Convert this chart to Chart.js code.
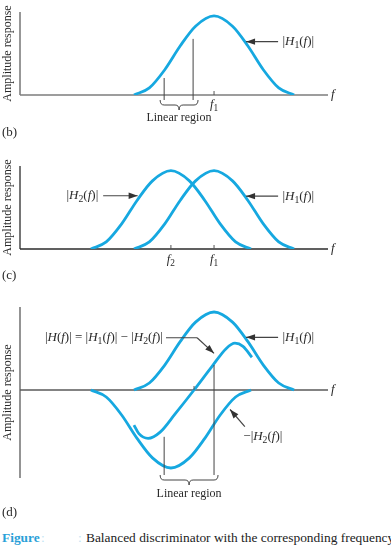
<!DOCTYPE html>
<html>
<head>
<meta charset="utf-8">
<script src="https://cdn.jsdelivr.net/npm/chart.js@4.4.0/dist/chart.umd.min.js"></script>
<style>
  html, body { margin: 0; padding: 0; background: #fff; }
  body { width: 391px; height: 545px; overflow: hidden; position: relative; font-family: "Liberation Serif", "Times New Roman", serif; }
  canvas { position: absolute; left: 0; }
  #caption { position: absolute; left: 0; top: 530px; width: 391px; height: 16px; line-height: 16px; font-size: 13.4px; white-space: nowrap; color: #222; overflow: hidden; }
  #caption span { position: absolute; top: 0; }
</style>
</head>
<body>
<canvas id="panelB" width="391" height="145" style="top:0px"></canvas>
<canvas id="panelC" width="391" height="140" style="top:145px"></canvas>
<canvas id="panelD" width="391" height="240" style="top:285px"></canvas>
<div id="caption">
  <span style="left:2px; color:#2a9fd8; font-weight:bold;">Figure</span>
  <span style="left:41px; color:#bfe3f3;">:</span>
  <span style="left:78px; color:#bfe3f3;">:</span>
  <span style="left:86px;">Balanced discriminator with the corresponding frequency</span>
</div>
<script>
// frequency axis runs 0..100 (arbitrary units), amplitude 1 = peak
const freqMin = 0;
const freqMax = 100;
const f1 = 63;
const f2 = 49;
const tickLabels = ["f_1", "f_2"];

// |H1(f)|
const h1Freq = [37, 42, 47, 52, 57, 63, 69, 74, 79, 84, 89];
const h1Values = [0, 0.09, 0.32, 0.62, 0.87, 1, 0.87, 0.62, 0.32, 0.09, 0];

// |H2(f)| (same shape, lower centre)
const h2Freq = [23, 28, 33, 38, 43, 49, 55, 60, 65, 70, 75];
const h2Values = [0, 0.09, 0.32, 0.62, 0.87, 1, 0.87, 0.62, 0.32, 0.09, 0];
const negH2Values = [0, -0.09, -0.32, -0.62, -0.87, -1, -0.87, -0.62, -0.32, -0.09, 0];

// |H(f)| = |H1| - |H2| as drawn in (d)
const hDiffFreq = [37, 38.6, 41.6, 45.5, 50.3, 56.5, 62.3, 66.9, 69.8, 72.4, 75.3];
const hDiffValues = [-0.45, -0.56, -0.62, -0.54, -0.31, 0, 0.3, 0.53, 0.6, 0.56, 0.42];

const CURVE = '#16a8e0';
const SERIF = '"Liberation Serif", "Times New Roman", serif';
const INK = '#2a2a2a';
const LABEL_SIZE = 13;

function toPoints(xs, ys) {
  return xs.map((x, i) => ({ x: x, y: ys[i] }));
}

function curve(xs, ys) {
  return {
    data: toPoints(xs, ys),
    borderColor: CURVE,
    borderWidth: 2.8,
    pointRadius: 0,
    fill: false,
    cubicInterpolationMode: 'monotone'
  };
}

// draws text where H and f are italic and "_x" is a subscript
function richText(ctx, str, x, y, size, align) {
  const parts = [];
  for (let i = 0; i < str.length; i++) {
    const c = str[i];
    if (c === '_') { parts.push({ t: str[++i], sub: true }); continue; }
    parts.push({ t: c, it: c === 'H' || c === 'f' });
  }
  const fontFor = p => (p.it ? 'italic ' : '') + (p.sub ? size * 0.75 : size) + 'px ' + SERIF;
  let w = 0;
  parts.forEach(p => { ctx.font = fontFor(p); p.w = ctx.measureText(p.t).width; w += p.w; });
  let cx = align === 'right' ? x - w : align === 'center' ? x - w / 2 : x;
  ctx.textBaseline = 'middle';
  ctx.textAlign = 'left';
  ctx.fillStyle = INK;
  parts.forEach(p => {
    ctx.font = fontFor(p);
    ctx.fillText(p.t, cx, p.sub ? y + size * 0.3 : y);
    cx += p.w;
  });
}

function line(ctx, x1, y1, x2, y2, color, width) {
  ctx.beginPath();
  ctx.strokeStyle = color;
  ctx.lineWidth = width;
  ctx.moveTo(x1, y1);
  ctx.lineTo(x2, y2);
  ctx.stroke();
}

function arrow(ctx, x1, y1, x2, y2) {
  line(ctx, x1, y1, x2, y2, '#444', 1.2);
  const a = Math.atan2(y2 - y1, x2 - x1);
  ctx.beginPath();
  ctx.fillStyle = '#333';
  ctx.moveTo(x2, y2);
  ctx.lineTo(x2 - 9 * Math.cos(a) + 3.2 * Math.sin(a), y2 - 9 * Math.sin(a) - 3.2 * Math.cos(a));
  ctx.lineTo(x2 - 9 * Math.cos(a) - 3.2 * Math.sin(a), y2 - 9 * Math.sin(a) + 3.2 * Math.cos(a));
  ctx.closePath();
  ctx.fill();
}

// curly brace opening downwards, tip in the middle
function brace(ctx, xa, xb, y, d) {
  const m = (xa + xb) / 2;
  ctx.beginPath();
  ctx.strokeStyle = '#444';
  ctx.lineWidth = 1;
  ctx.moveTo(xa, y);
  ctx.quadraticCurveTo(xa, y + d / 2, xa + 4, y + d / 2);
  ctx.lineTo(m - 4, y + d / 2);
  ctx.quadraticCurveTo(m, y + d / 2, m, y + d);
  ctx.quadraticCurveTo(m, y + d / 2, m + 4, y + d / 2);
  ctx.lineTo(xb - 4, y + d / 2);
  ctx.quadraticCurveTo(xb, y + d / 2, xb, y);
  ctx.stroke();
}

function yTitle(ctx, area) {
  ctx.save();
  ctx.translate(8, (area.top + area.bottom) / 2);
  ctx.rotate(-Math.PI / 2);
  ctx.font = '12px ' + SERIF;
  ctx.fillStyle = INK;
  ctx.textAlign = 'center';
  ctx.textBaseline = 'middle';
  ctx.fillText('Amplitude response', 0, 0);
  ctx.restore();
}

function plainText(ctx, str, x, y, size, align) {
  ctx.font = size + 'px ' + SERIF;
  ctx.fillStyle = INK;
  ctx.textAlign = align;
  ctx.textBaseline = 'middle';
  ctx.fillText(str, x, y);
}

function h1Label(ctx, px, py) {
  arrow(ctx, px(83.8), py(0.675), px(73.4), py(0.675));
  richText(ctx, '|H_1(f)|', px(85.2), py(0.675), LABEL_SIZE, 'left');
}

// one chart per panel, annotations drawn with the chart's own scales
function makePanel(id, datasets, yMin, yMax, padding, axisColor, axisWidth, annotate) {
  const helper = {
    id: 'panelDrawing',
    beforeDatasetsDraw(chart) {
      const ctx = chart.ctx;
      const xs = chart.scales.x, ys = chart.scales.y, area = chart.chartArea;
      const px = v => xs.getPixelForValue(v);
      const py = v => ys.getPixelForValue(v);
      ctx.save();
      line(ctx, px(freqMin), area.top, px(freqMin), area.bottom, axisColor, axisWidth);
      line(ctx, px(freqMin), py(0), px(freqMax), py(0), axisColor, axisWidth);
      ctx.restore();
    },
    afterDatasetsDraw(chart) {
      const ctx = chart.ctx;
      const xs = chart.scales.x, ys = chart.scales.y, area = chart.chartArea;
      const px = v => xs.getPixelForValue(v);
      const py = v => ys.getPixelForValue(v);
      ctx.save();
      yTitle(ctx, area);
      richText(ctx, 'f', px(freqMax) + 3, py(0), 13, 'left');
      annotate(ctx, px, py, area);
      ctx.restore();
    }
  };

  new Chart(document.getElementById(id), {
    type: 'line',
    data: { datasets: datasets },
    options: {
      responsive: false,
      animation: false,
      layout: { padding: padding },
      plugins: { legend: { display: false }, tooltip: { enabled: false } },
      scales: {
        x: { type: 'linear', min: freqMin, max: freqMax, display: false },
        y: { type: 'linear', min: yMin, max: yMax, display: false }
      }
    },
    plugins: [helper]
  });
}

// (b) single tuned circuit
makePanel('panelB', [curve(h1Freq, h1Values)], 0, 1.05,
  { left: 20, right: 63, top: 12, bottom: 50 }, '#7d7d7d', 1.6,
  (ctx, px, py) => {
    line(ctx, px(f1), py(0) - 4, px(f1), py(0), '#555', 1);
    richText(ctx, tickLabels[0], px(f1), py(0) + 10, 12.5, 'center');
    line(ctx, px(46.8), py(0.215), px(46.8), py(0) + 5, '#444', 1);
    line(ctx, px(56.2), py(0.71), px(56.2), py(0) + 5, '#444', 1);
    brace(ctx, px(45.5), px(57.8), py(0) + 5, 10);
    plainText(ctx, 'Linear region', px(51.6), py(0) + 23, 12, 'center');
    h1Label(ctx, px, py);
    plainText(ctx, '(b)', 2, py(0) + 38, 13, 'left');
  });

// (c) two stagger-tuned circuits
makePanel('panelC', [curve(h2Freq, h2Values), curve(h1Freq, h1Values)], 0, 1.06,
  { left: 20, right: 63, top: 21, bottom: 36 }, '#2b2b2b', 1.3,
  (ctx, px, py) => {
    line(ctx, px(f2), py(0) - 4, px(f2), py(0), '#555', 1);
    line(ctx, px(f1), py(0) - 4, px(f1), py(0), '#555', 1);
    richText(ctx, tickLabels[1], px(f2), py(0) + 11, 12.5, 'center');
    richText(ctx, tickLabels[0], px(f1), py(0) + 11, 12.5, 'center');
    arrow(ctx, px(27), py(0.68), px(38.2), py(0.68));
    richText(ctx, '|H_2(f)|', px(25.4), py(0.68), LABEL_SIZE, 'right');
    h1Label(ctx, px, py);
    plainText(ctx, '(c)', 2, py(0) + 27, 13, 'left');
  });

// (d) balanced discriminator output
makePanel('panelD',
  [curve(h1Freq, h1Values), curve(h2Freq, negH2Values), curve(hDiffFreq, hDiffValues)],
  -1.128, 1.064,
  { left: 20, right: 63, top: 22, bottom: 47 }, '#5a5a5a', 1.3,
  (ctx, px, py, area) => {
    line(ctx, px(56.5), py(0) - 4, px(56.5), py(0), '#555', 1);
    line(ctx, px(46.8), py(-0.6), px(46.8), area.bottom - 3, '#444', 1);
    line(ctx, px(f1), py(0.32), px(f1), area.bottom - 3, '#444', 1);
    brace(ctx, px(45.5), px(64.3), area.bottom - 3, 10);
    plainText(ctx, 'Linear region', px(54.9), py(0) + 104, 12, 'center');
    h1Label(ctx, px, py);
    richText(ctx, '|H(f)| = |H_1(f)| \u2212 |H_2(f)|', px(46.4), py(0.67), LABEL_SIZE, 'right');
    line(ctx, px(47.4), py(0.67), px(57.5), py(0.67), '#444', 1.1);
    arrow(ctx, px(57.5), py(0.67), px(63), py(0.47));
    arrow(ctx, px(73), py(-0.47), px(68.2), py(-0.25));
    richText(ctx, '\u2212|H_2(f)|', px(72.5), py(-0.6), LABEL_SIZE, 'left');
    plainText(ctx, '(d)', 2, py(0) + 123, 13, 'left');
  });
</script>
</body>
</html>
